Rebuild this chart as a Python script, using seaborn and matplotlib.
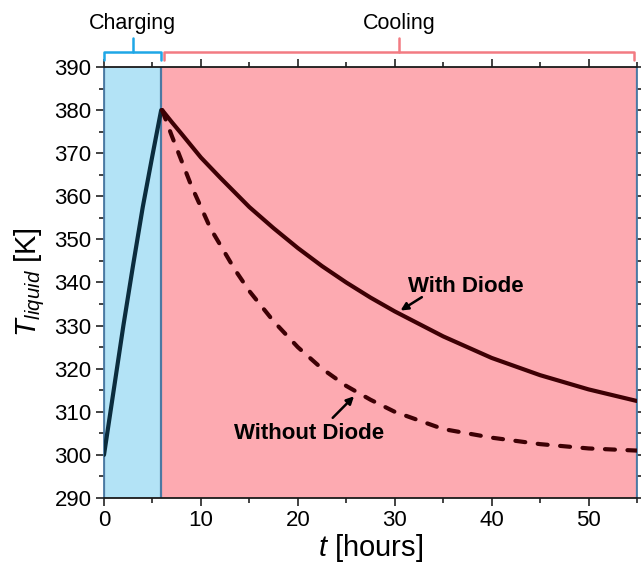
import numpy as np
import pandas as pd
import seaborn as sns
import matplotlib
matplotlib.use("Agg")
import matplotlib.pyplot as plt
import matplotlib.transforms as mtransforms

# ---- data ----
t_charge = [0, 0.5, 1, 2, 3, 4, 5, 5.9]
T_charge = [300, 307.5, 315, 330, 344, 357.5, 369.5, 380]

t_cool_diode = [6, 7, 8, 10, 12, 15, 17.5, 20, 22.5, 25, 27.5, 30, 35, 40, 45, 50, 55]
T_cool_diode = [380, 377.2, 374.5, 369, 364.3, 357.5, 352.6, 348, 343.8, 340, 336.5, 333.3,
                327.5, 322.5, 318.5, 315.2, 312.5]

t_cool_nodiode = [6, 7, 9, 11, 13.5, 15, 17.5, 20, 22.5, 25, 27.5, 30, 35, 40, 45, 50, 55]
T_cool_nodiode = [380, 374, 362.5, 352.5, 343, 338, 331, 325, 320, 316, 312.8, 310,
                  306, 304, 302.5, 301.5, 301]

charge_end = 5.9
x_max = 55
y_min, y_max = 290, 390
phase_labels = ["Charging", "Cooling"]
curve_labels = ["With Diode", "Without Diode"]

sns.set_theme(style="ticks")
plt.rcParams['font.family'] = ['Liberation Sans', 'DejaVu Sans']
plt.rcParams['text.color'] = 'black'
plt.rcParams['axes.labelcolor'] = 'black'
plt.rcParams['xtick.color'] = 'black'
plt.rcParams['ytick.color'] = 'black'
plt.rcParams['mathtext.fontset'] = 'custom'
plt.rcParams['mathtext.rm'] = 'Liberation Sans'
plt.rcParams['mathtext.it'] = 'Liberation Sans:italic'

fig = plt.figure(figsize=(6.41, 5.67), dpi=100)
ax = fig.add_axes([104/641, 1-498/567, (637-104)/641, (498-67)/567])

edge = "#4a79a3"
ax.axvspan(0, charge_end, color="#b3e3f6", zorder=0)
ax.axvspan(charge_end, x_max, color="#fdaab1", zorder=0)
ax.axvline(0, color=edge, lw=1.6, zorder=1)
ax.axvline(charge_end, color=edge, lw=1.6, zorder=1)
ax.axvline(x_max, color=edge, lw=1.6, zorder=1)

df_c = pd.DataFrame({"t": t_charge, "T": T_charge})
df_d = pd.DataFrame({"t": t_cool_diode, "T": T_cool_diode})
df_n = pd.DataFrame({"t": t_cool_nodiode, "T": T_cool_nodiode})

sns.lineplot(data=df_c, x="t", y="T", ax=ax, color="#0b2c3d", lw=3.0, zorder=3)
sns.lineplot(data=df_d, x="t", y="T", ax=ax, color="#3d0004", lw=3.0, zorder=3)
sns.lineplot(data=df_n, x="t", y="T", ax=ax, color="#3d0004", lw=3.0, zorder=3)
ln = ax.lines[-1]
ln.set_dashes([2.4, 3.0])
ln.set_dash_capstyle("round")

ax.set_xlim(0, x_max)
ax.set_ylim(y_min, y_max)
ax.xaxis.set_major_locator(plt.MultipleLocator(10))
ax.xaxis.set_minor_locator(plt.MultipleLocator(5))
ax.yaxis.set_major_locator(plt.MultipleLocator(10))
ax.yaxis.set_minor_locator(plt.MultipleLocator(5))
ax.tick_params(which="both", direction="out", top=True, right=True,
               labeltop=False, labelright=False, color="#222222", width=1.2)
ax.tick_params(which="major", length=6, labelsize=16, pad=3)
ax.tick_params(which="minor", length=3.5)
for s in ax.spines.values():
    s.set_color("#1a1a1a")
    s.set_linewidth(1.3)
ax.spines["left"].set_color(edge)
ax.spines["right"].set_color(edge)

ax.set_xlabel(r"$\it{t}$ [hours]", fontsize=21, labelpad=0)
ax.set_ylabel(r"$\it{T}_{\it{liquid}}$ [K]", fontsize=21, labelpad=5)

# annotations: text + separate arrows
ax.text(37.3, 339.0, curve_labels[0], fontsize=16, fontweight="bold",
        ha="center", va="center")
ax.annotate("", xy=(30.6, 333.5), xytext=(32.8, 336.6),
            arrowprops=dict(arrowstyle="-|>", color="black", lw=1.8,
                            mutation_scale=11, shrinkA=0, shrinkB=0))
ax.text(21.2, 305.0, curve_labels[1], fontsize=16, fontweight="bold",
        ha="center", va="center")
ax.annotate("", xy=(25.8, 313.6), xytext=(23.6, 308.6),
            arrowprops=dict(arrowstyle="-|>", color="black", lw=1.8,
                            mutation_scale=11, shrinkA=0, shrinkB=0))

# phase brackets above the axes
trans = mtransforms.blended_transform_factory(ax.transData, ax.transAxes)
y_h, y_end, y_top = 1.035, 1.017, 1.068

def bracket(x0, x1, color, label):
    xc = (x0 + x1) / 2
    ax.plot([x0, x0, x1, x1], [y_end, y_h, y_h, y_end], color=color, lw=1.8,
            transform=trans, clip_on=False, solid_joinstyle="round")
    ax.plot([xc, xc], [y_h, y_top], color=color, lw=1.8, transform=trans, clip_on=False)
    ax.text(xc, y_top + 0.008, label, transform=trans, ha="center", va="bottom",
            fontsize=15.5, color="black")

bracket(0, charge_end, "#1ea7e6", phase_labels[0])
bracket(charge_end + 0.3, x_max - 0.3, "#f27b82", phase_labels[1])

fig.savefig("out.png", dpi=100)
